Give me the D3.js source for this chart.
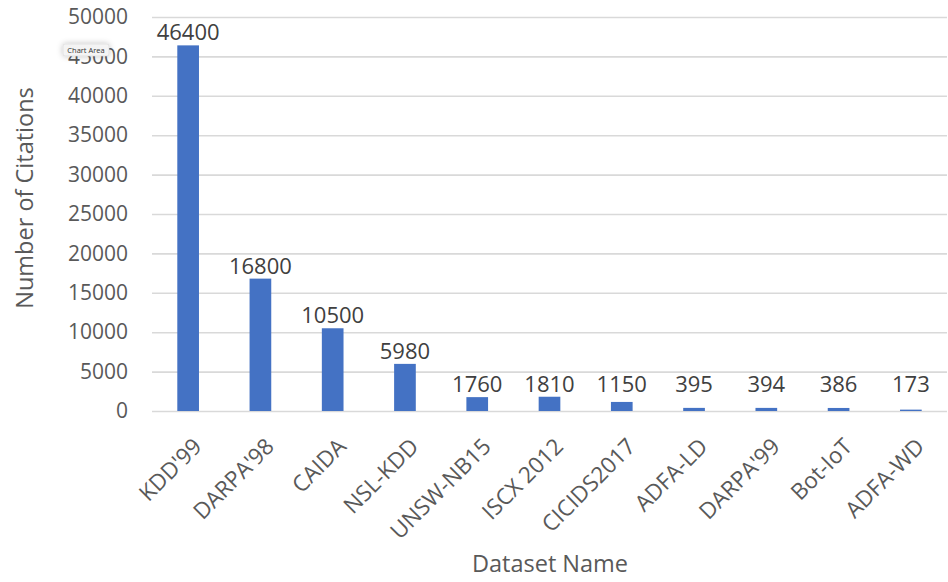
<!DOCTYPE html>
<html>
<head>
<meta charset="utf-8">
<script src="https://cdn.jsdelivr.net/npm/d3@7"></script>
<style>
  html, body { margin: 0; padding: 0; background: #ffffff; }
  svg { display: block; }
  text { font-family: "Open Sans", "Noto Sans", sans-serif; }
</style>
</head>
<body>
<svg id="chart" width="948" height="582"></svg>
<script>
// Citation counts per intrusion-detection dataset
const datasets = ["KDD'99", "DARPA'98", "CAIDA", "NSL-KDD", "UNSW-NB15", "ISCX 2012",
                  "CICIDS2017", "ADFA-LD", "DARPA'99", "Bot-IoT", "ADFA-WD"];
const citations = [46400, 16800, 10500, 5980, 1760, 1810, 1150, 395, 394, 386, 173];
const yTicks = [0, 5000, 10000, 15000, 20000, 25000, 30000, 35000, 40000, 45000, 50000];

const svg = d3.select("#chart");
const W = 948, H = 582;
const margin = { left: 152, right: 1, top: 17, bottom: 171 };
const x0 = margin.left, x1 = W - margin.right;
const y0 = H - margin.bottom, y1 = margin.top;

const x = d3.scaleBand().domain(datasets).range([x0, x1])
  .paddingInner(0.7).paddingOuter(0.35);
const y = d3.scaleLinear().domain([0, 50000]).range([y0, y1]);

// Horizontal gridlines + value axis labels
const yAxis = svg.append("g")
  .attr("transform", `translate(${x0},0)`)
  .call(d3.axisLeft(y).tickValues(yTicks).tickSize(-(x1 - x0)).tickPadding(24)
    .tickFormat(d3.format("d")));
yAxis.select(".domain").remove();
yAxis.selectAll(".tick line").attr("stroke", "#d9d9d9").attr("stroke-width", 1.6);
yAxis.selectAll(".tick text")
  .attr("fill", "#595959").attr("font-size", 21)
  .style("font-family", "'Open Sans', sans-serif");

// Bars
svg.append("g").selectAll("rect")
  .data(datasets)
  .join("rect")
  .attr("x", d => x(d))
  .attr("width", x.bandwidth())
  .attr("y", (d, i) => y(citations[i]))
  .attr("height", (d, i) => y(0) - y(citations[i]))
  .attr("fill", "#4472c4");

// Value labels above bars; short bars keep their label clear of the baseline
svg.append("g").selectAll("text")
  .data(datasets)
  .join("text")
  .attr("x", d => x(d) + x.bandwidth() / 2)
  .attr("y", (d, i) => Math.min(y(citations[i]) - 5, y0 - 19))
  .attr("text-anchor", "middle")
  .attr("font-size", 22)
  .attr("fill", "#404040")
  .text((d, i) => citations[i]);

// Category labels, rotated
const xAxis = svg.append("g")
  .attr("transform", `translate(0,${y0})`)
  .call(d3.axisBottom(x).tickSize(0).tickPadding(0));
xAxis.select(".domain").remove();
xAxis.selectAll(".tick text")
  .attr("fill", "#595959").attr("font-size", 22.5)
  .style("font-family", "'Open Sans', sans-serif")
  .attr("text-anchor", "end")
  .attr("dy", null)
  .attr("y", 0)
  .attr("transform", "translate(15,37) rotate(-45)");

// Axis titles
svg.append("text")
  .attr("transform", `translate(33,${(y0 + y1) / 2 - 16}) rotate(-90)`)
  .attr("text-anchor", "middle")
  .attr("font-size", 23.5)
  .attr("fill", "#595959")
  .text("Number of Citations");

svg.append("text")
  .attr("x", 550)
  .attr("y", 572)
  .attr("text-anchor", "middle")
  .attr("font-size", 23.5)
  .attr("fill", "#595959")
  .text("Dataset Name");

// Hover tooltip for the chart area
const defs = svg.append("defs");
const f = defs.append("filter").attr("id", "tipShadow")
  .attr("x", "-50%").attr("y", "-100%").attr("width", "200%").attr("height", "300%");
f.append("feGaussianBlur").attr("in", "SourceAlpha").attr("stdDeviation", 3);
f.append("feComponentTransfer").append("feFuncA").attr("type", "linear").attr("slope", 0.25);
const fm = f.append("feMerge");
fm.append("feMergeNode");
fm.append("feMergeNode").attr("in", "SourceGraphic");
const tip = svg.append("g").attr("transform", "translate(63,44)");
tip.append("rect")
  .attr("width", 46).attr("height", 12).attr("rx", 2)
  .attr("fill", "#f4f4f4").attr("stroke", "#d0d0d0").attr("stroke-width", 0.5)
  .attr("filter", "url(#tipShadow)");
tip.append("text")
  .attr("x", 23).attr("y", 9)
  .attr("text-anchor", "middle")
  .attr("font-size", 7.5)
  .attr("fill", "#333333")
  .text("Chart Area");
</script>
</body>
</html>
